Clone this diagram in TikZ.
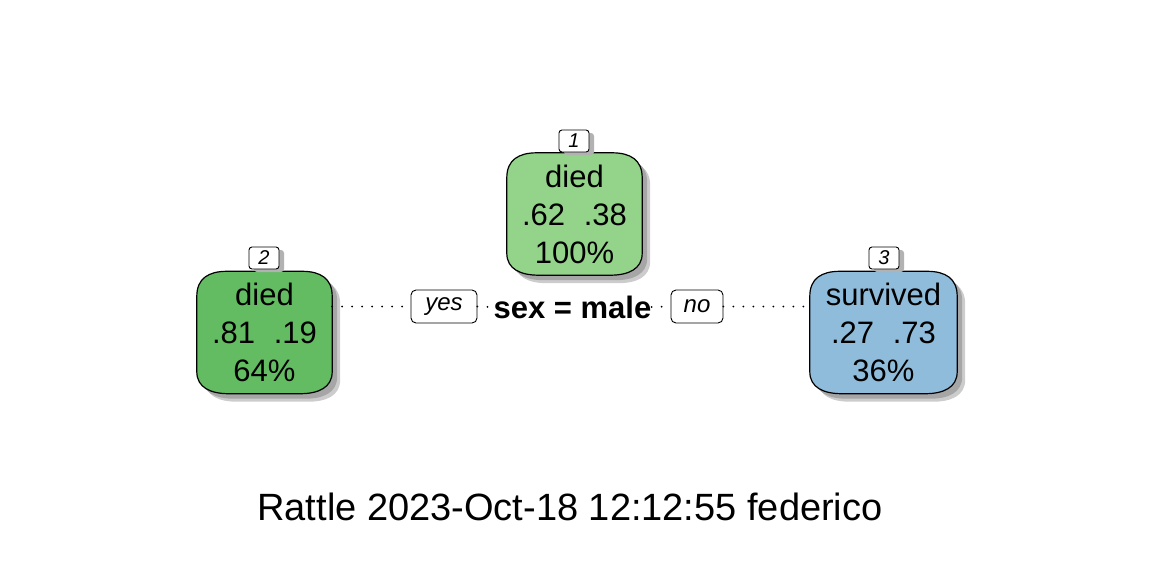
\documentclass[tikz,border=0pt]{standalone}
\usepackage{fontspec}
\setmainfont{Liberation Sans}
\usetikzlibrary{shadows,calc,backgrounds}
\definecolor{rootgreen}{RGB}{148,211,138}
\definecolor{leafgreen}{RGB}{99,188,98}
\definecolor{leafblue}{RGB}{143,188,219}
\tikzset{
  treenode/.style={minimum width=135pt, minimum height=122pt, inner sep=0pt, align=center,
    font=\fontsize{31}{38}\selectfont},
  numbox/.style={draw, line width=0.9pt, fill=white, rounded corners=3pt,
    minimum width=30pt, minimum height=22pt, inner sep=0pt,
    font=\fontsize{20}{20}\selectfont\itshape,
    drop shadow={shadow xshift=5pt, shadow yshift=-3pt, fill=black!30, opacity=1}},
  yesno/.style={draw, line width=0.9pt, fill=white, rounded corners=5pt,
    minimum height=33pt, inner sep=0pt, font=\fontsize{24}{24}\selectfont\itshape},
  branch/.style={line width=2pt, line cap=round, dash pattern=on 0pt off 10pt}
}
% outline of a tree node, from its anchors
\newcommand{\barrelpath}[1]{%
  ($(#1.north west)+(0,25)$) .. controls ($(#1.north west)+(0,7)$) and ($(#1.north west)+(12,0)$) .. ($(#1.north west)+(30,0)$)
  -- ($(#1.north east)+(-30,0)$) .. controls ($(#1.north east)+(-12,0)$) and ($(#1.north east)+(0,7)$) .. ($(#1.north east)+(0,25)$)
  -- ($(#1.south east)+(0,-22)$) .. controls ($(#1.south east)+(0,-6)$) and ($(#1.south east)+(-14,0)$) .. ($(#1.south east)+(-32,0)$)
  -- ($(#1.south west)+(32,0)$) .. controls ($(#1.south west)+(14,0)$) and ($(#1.south west)+(0,-6)$) .. ($(#1.south west)+(0,-22)$)
  -- cycle}
\newcommand{\barrel}[2]{%
  \begin{scope}[on background layer]
    \fill[black!20, transform canvas={xshift=8pt, yshift=-8pt}] \barrelpath{#1};
    \fill[black!35, transform canvas={xshift=5pt, yshift=-5pt}] \barrelpath{#1};
    \filldraw[line width=1.2pt, fill=#2] \barrelpath{#1};
  \end{scope}}
\begin{document}
\begin{tikzpicture}[x=1pt, y=-1pt]
		\useasboundingbox (0,0) rectangle (1152,576);
		% tree nodes
		\node[treenode] (n1) at (574.5,214) {died\\.62\hspace{0.6em}.38\\100\%};
		\node[treenode] (n2) at (264.5,332.5) {died\\.81\hspace{0.6em}.19\\64\%};
		\node[treenode, minimum width=147pt] (n3) at (883.5,332.5) {survived\\.27\hspace{0.6em}.73\\36\%};
		\barrel{n1}{rootgreen}
		\barrel{n2}{leafgreen}
		\barrel{n3}{leafblue}
		\node[numbox] (l1) at (574,141) {1};
		\node[numbox] (l2) at (264,258) {2};
		\node[numbox] (l3) at (884,258) {3};
		% split
		\node[font=\fontsize{31}{31}\selectfont\bfseries, inner sep=0pt] (split) at (572.5,307) {sex = male};
		\node[yesno, minimum width=66pt] (yes) at (444,306.5) {yes};
		\node[yesno, minimum width=52pt] (no) at (697,306.5) {no};
		\draw[branch] (n2.east |- yes.west) -- (yes.west);
		\draw[branch] (yes.east) -- (split.west);
		\draw[branch] (split.east) -- (no.west);
		\draw[branch] (no.east) -- (n3.west |- no.east);
		\node[font=\fontsize{38}{38}\selectfont] (stamp) at (570,507) {Rattle 2023-Oct-18 12:12:55 federico};
\end{tikzpicture}
\end{document}
